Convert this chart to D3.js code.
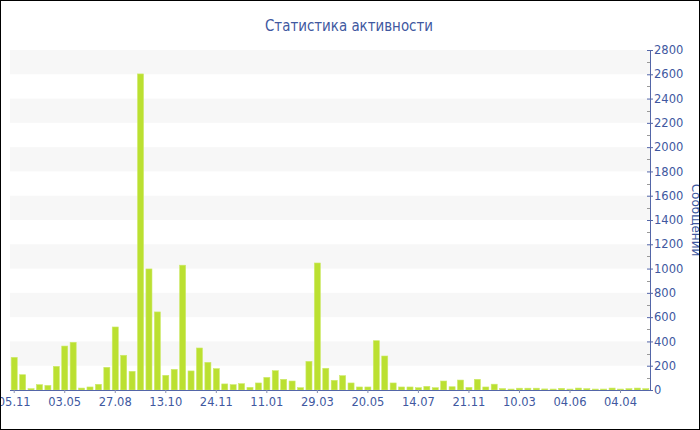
<!DOCTYPE html>
<html><head><meta charset="utf-8">
<script src="https://cdn.jsdelivr.net/npm/d3@7/dist/d3.min.js"></script>
<style>html,body{margin:0;padding:0;background:#fff;}svg{display:block;}</style>
</head><body>
<script>
const titleText = "Статистика активности";
const yAxisTitle = "Сообщений";
const tickLabels = ["05.11","03.05","27.08","13.10","24.11","11.01","29.03","20.05","14.07","21.11","10.03","04.06","04.04"];
const values = [269,126,11,44,38,195,362,393,16,25,47,187,519,286,154,2603,997,643,121,170,
  1028,157,346,228,176,50,44,52,22,58,104,159,88,74,19,236,1046,179,80,118,
  58,25,25,406,280,58,25,25,19,30,19,74,27,82,22,88,25,48,12,8,
  15,15,15,9,8,14,8,16,11,8,8,16,8,11,16,11];
const yTicks = [0,200,400,600,800,1000,1200,1400,1600,1800,2000,2200,2400,2600,2800];

const W = 700, H = 430;
const pLeft = 10, pRight = 650, pTop = 50, pBottom = 390;
const textColor = "#4058a0";
const axisColor = "#5466a8";

const svg = d3.select("body").append("svg").attr("width", W).attr("height", H);

const idx = values.map((d, i) => i);
const x = d3.scaleBand().domain(idx).range([pLeft, pRight]).paddingInner(0.28).paddingOuter(0.14);
const y = d3.scaleLinear().domain([0, 2800]).range([pBottom, pTop]);

// stripes
const bands = yTicks.slice(0, -1).filter((d, i) => i % 2 === 1);
svg.append("g").selectAll("rect").data(bands).join("rect")
  .attr("x", pLeft).attr("width", pRight - pLeft)
  .attr("y", d => y(d + 200)).attr("height", d => y(d) - y(d + 200))
  .attr("fill", "#f7f7f7");

// bars
svg.append("g").selectAll("rect").data(values).join("rect")
  .attr("x", (d, i) => x(i)).attr("width", x.bandwidth())
  .attr("y", d => y(d)).attr("height", d => pBottom - y(d))
  .attr("fill", "#bbe031").attr("stroke", "#cdea6a").attr("stroke-width", 0.6);

// x axis
const tickIdx = tickLabels.map((d, i) => i * 6);
const xAxis = d3.axisBottom(x).tickValues(tickIdx)
  .tickFormat(d => tickLabels[d / 6]).tickSize(3).tickSizeOuter(0);
const gx = svg.append("g").attr("transform", `translate(0,${pBottom})`).call(xAxis);
gx.select(".domain").attr("d", `M${pLeft},0.5H${pRight}`).attr("stroke", axisColor);
gx.selectAll(".tick line").attr("stroke", "#8890b0");
gx.selectAll(".tick text").attr("fill", textColor)
  .style("font-family", "DejaVu Sans").style("font-size", "11.5px").attr("dy", "0.85em");

// y axis minor ticks
const minor = d3.range(100, 2800, 200);
svg.append("g").selectAll("line").data(minor).join("line")
  .attr("x1", pRight - 3).attr("x2", pRight)
  .attr("y1", d => Math.round(y(d)) + 0.5).attr("y2", d => Math.round(y(d)) + 0.5)
  .attr("stroke", "#999");

const yAxis = d3.axisRight(y).tickValues(yTicks).tickFormat(d3.format("d")).tickSize(3).tickSizeOuter(0);
const gy = svg.append("g").attr("transform", `translate(${pRight},0)`).call(yAxis);
gy.select(".domain").attr("stroke", axisColor);
gy.selectAll(".tick line").attr("stroke", axisColor).attr("x1", -3);
gy.selectAll(".tick text").attr("fill", textColor).attr("x", 4)
  .style("font-family", "DejaVu Sans").style("font-size", "11.5px");

// title
svg.append("text").attr("x", 349).attr("y", 31).attr("text-anchor", "middle")
  .attr("fill", textColor).style("font-family", "DejaVu Sans").style("font-size", "15px")
  .attr("textLength", 168).attr("lengthAdjust", "spacingAndGlyphs")
  .text(titleText);

// y title
svg.append("text").attr("transform", `translate(692,${(pTop + pBottom) / 2}) rotate(90)`)
  .attr("text-anchor", "middle").attr("fill", textColor)
  .style("font-family", "DejaVu Sans").style("font-size", "12px")
  .text(yAxisTitle);

// border
svg.append("rect").attr("x", 0.5).attr("y", 0.5).attr("width", W - 1).attr("height", H - 1)
  .attr("fill", "none").attr("stroke", "#000");
</script>
</body></html>
